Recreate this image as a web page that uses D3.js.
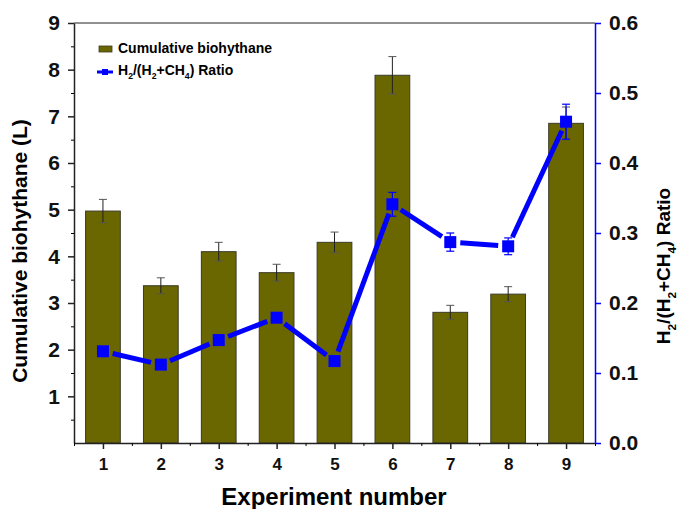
<!DOCTYPE html>
<html>
<head>
<meta charset="utf-8">
<script src="https://cdn.jsdelivr.net/npm/d3@7"></script>
<style>
  body { margin: 0; background: #fff; }
  text { font-family: "Liberation Sans", Arial, sans-serif; font-weight: bold; }
</style>
</head>
<body>
<div id="chart"></div>
<script>
// data
const experiments = [1, 2, 3, 4, 5, 6, 7, 8, 9];
const biohythane = [4.97, 3.37, 4.1, 3.65, 4.3, 7.88, 2.8, 3.19, 6.85];
const biohythaneErr = [0.25, 0.17, 0.2, 0.18, 0.22, 0.4, 0.15, 0.16, 0.35];
const ratio = [0.131, 0.112, 0.147, 0.179, 0.117, 0.341, 0.287, 0.281, 0.459];
const ratioErr = [0, 0, 0, 0, 0, 0.017, 0.013, 0.012, 0.025];
const leftTicks = [1, 2, 3, 4, 5, 6, 7, 8, 9];
const rightTicks = [0, 0.1, 0.2, 0.3, 0.4, 0.5, 0.6];

const width = 680, height = 509;
const plotL = 74, plotR = 595, plotT = 23, plotB = 443;
const barColor = "#6b6700", lineColor = "#0000ff";

const svg = d3.select("#chart").append("svg")
    .attr("width", width)
    .attr("height", height);

const x = d3.scaleLinear().domain([0.5, 9.5]).range([plotL, plotR]);
const y = d3.scaleLinear().domain([0, 9]).range([plotB, plotT]);
const y2 = d3.scaleLinear().domain([0, 0.6]).range([plotB, plotT]);
const barW = (x(2) - x(1)) * 0.6;

const rows = experiments.map((e, i) => ({
    e, v: biohythane[i], ve: biohythaneErr[i], r: ratio[i], re: ratioErr[i]
}));

// bars
svg.selectAll("rect.bar").data(rows).enter().append("rect")
    .attr("class", "bar")
    .attr("x", d => x(d.e) - barW / 2)
    .attr("y", d => y(d.v))
    .attr("width", barW)
    .attr("height", d => y(0) - y(d.v))
    .attr("fill", barColor)
    .attr("stroke", "#3a3a2a")
    .attr("stroke-width", 1);

// bar error bars
const barErr = svg.append("g").attr("stroke", "#222").attr("stroke-width", 1);
rows.forEach(d => {
    barErr.append("line")
        .attr("x1", x(d.e)).attr("x2", x(d.e))
        .attr("y1", y(d.v + d.ve)).attr("y2", y(d.v - d.ve));
    [d.v + d.ve, d.v - d.ve].forEach(v => {
        barErr.append("line")
            .attr("x1", x(d.e) - 4).attr("x2", x(d.e) + 4)
            .attr("y1", y(v)).attr("y2", y(v))
            .attr("stroke", "#555");
    });
});

// ratio line, drawn as segments with a gap near each marker
const gap = 10;
for (let i = 0; i < rows.length - 1; i++) {
    const x1 = x(rows[i].e), yy1 = y2(rows[i].r);
    const x2 = x(rows[i + 1].e), yy2 = y2(rows[i + 1].r);
    const len = Math.hypot(x2 - x1, yy2 - yy1);
    const ux = (x2 - x1) / len, uy = (yy2 - yy1) / len;
    svg.append("line")
        .attr("x1", x1 + ux * gap).attr("y1", yy1 + uy * gap)
        .attr("x2", x2 - ux * gap).attr("y2", yy2 - uy * gap)
        .attr("stroke", lineColor)
        .attr("stroke-width", 5);
}

// ratio error bars
const lineErr = svg.append("g").attr("stroke", lineColor).attr("stroke-width", 1.2);
rows.filter(d => d.re > 0).forEach(d => {
    lineErr.append("line")
        .attr("x1", x(d.e)).attr("x2", x(d.e))
        .attr("y1", y2(d.r + d.re)).attr("y2", y2(d.r - d.re));
    [d.r + d.re, d.r - d.re].forEach(v => {
        lineErr.append("line")
            .attr("x1", x(d.e) - 4).attr("x2", x(d.e) + 4)
            .attr("y1", y2(v)).attr("y2", y2(v));
    });
});

// markers
svg.selectAll("rect.pt").data(rows).enter().append("rect")
    .attr("class", "pt")
    .attr("x", d => x(d.e) - 6)
    .attr("y", d => y2(d.r) - 6)
    .attr("width", 12)
    .attr("height", 12)
    .attr("fill", lineColor);

// frame top
svg.append("line")
    .attr("x1", plotL).attr("x2", plotR)
    .attr("y1", plotT).attr("y2", plotT)
    .attr("stroke", "#222").attr("stroke-width", 1.2);

// left axis
const yAxis = svg.append("g").attr("transform", `translate(${plotL},0)`)
    .call(d3.axisLeft(y).tickValues(leftTicks).tickSize(6).tickPadding(8).tickSizeOuter(0));
svg.append("g").attr("transform", `translate(${plotL},0)`)
    .call(d3.axisLeft(y).tickValues(d3.range(0.5, 9, 1)).tickSize(3).tickFormat("").tickSizeOuter(0))
    .select(".domain").remove();
yAxis.selectAll("text").attr("font-size", 21).attr("fill", "#111");
yAxis.selectAll("line, path").attr("stroke", "#222").attr("stroke-width", 1.5);

// bottom axis
const xAxis = svg.append("g").attr("transform", `translate(0,${plotB})`)
    .call(d3.axisBottom(x).tickValues(experiments).tickFormat(d3.format("d")).tickSize(6).tickPadding(9).tickSizeOuter(0));
svg.append("g").attr("transform", `translate(0,${plotB})`)
    .call(d3.axisBottom(x).tickValues(d3.range(0.5, 10, 1)).tickSize(3).tickFormat("").tickSizeOuter(0))
    .selectAll(".domain").remove();
xAxis.selectAll("text").attr("font-size", 17).attr("fill", "#111");
xAxis.selectAll("line, path").attr("stroke", "#222").attr("stroke-width", 1.5);

// right axis
const y2Axis = svg.append("g").attr("transform", `translate(${plotR},0)`)
    .call(d3.axisRight(y2).tickValues(rightTicks).tickFormat(d3.format(".1f")).tickSize(6).tickPadding(8).tickSizeOuter(0));
y2Axis.selectAll("text").attr("font-size", 21).attr("fill", "#111");
y2Axis.selectAll("line, path").attr("stroke", lineColor).attr("stroke-width", 1.5);

// axis titles
svg.append("text")
    .attr("transform", `translate(27,251) rotate(-90)`)
    .attr("text-anchor", "middle")
    .attr("font-size", 21)
    .text("Cumulative biohythane (L)");

svg.append("text")
    .attr("x", 334).attr("y", 505)
    .attr("text-anchor", "middle")
    .attr("font-size", 24)
    .text("Experiment number");

function chemLabel(sel, size) {
    const sub = size * 0.62;
    sel.append("tspan").text("H");
    sel.append("tspan").attr("font-size", sub).attr("dy", size * 0.3).text("2");
    sel.append("tspan").attr("dy", -size * 0.3).text("/(H");
    sel.append("tspan").attr("font-size", sub).attr("dy", size * 0.3).text("2");
    sel.append("tspan").attr("dy", -size * 0.3).text("+CH");
    sel.append("tspan").attr("font-size", sub).attr("dy", size * 0.3).text("4");
    sel.append("tspan").attr("dy", -size * 0.3).text(") Ratio");
}

const rLabel = svg.append("text")
    .attr("transform", `translate(670,266) rotate(-90)`)
    .attr("text-anchor", "middle")
    .attr("font-size", 19);
chemLabel(rLabel, 19);

// legend
const legend = svg.append("g");
legend.append("rect")
    .attr("x", 99).attr("y", 46).attr("width", 13).attr("height", 6)
    .attr("fill", barColor).attr("stroke", "#3a3a2a").attr("stroke-width", 0.8);
legend.append("text")
    .attr("x", 118).attr("y", 53)
    .attr("font-size", 14)
    .text("Cumulative biohythane");
legend.append("line")
    .attr("x1", 97).attr("x2", 113).attr("y1", 72).attr("y2", 72)
    .attr("stroke", lineColor).attr("stroke-width", 3);
legend.append("rect")
    .attr("x", 102).attr("y", 69).attr("width", 6).attr("height", 6)
    .attr("fill", lineColor);
const lgText = legend.append("text")
    .attr("x", 118).attr("y", 75)
    .attr("font-size", 14);
chemLabel(lgText, 14);
</script>
</body>
</html>
